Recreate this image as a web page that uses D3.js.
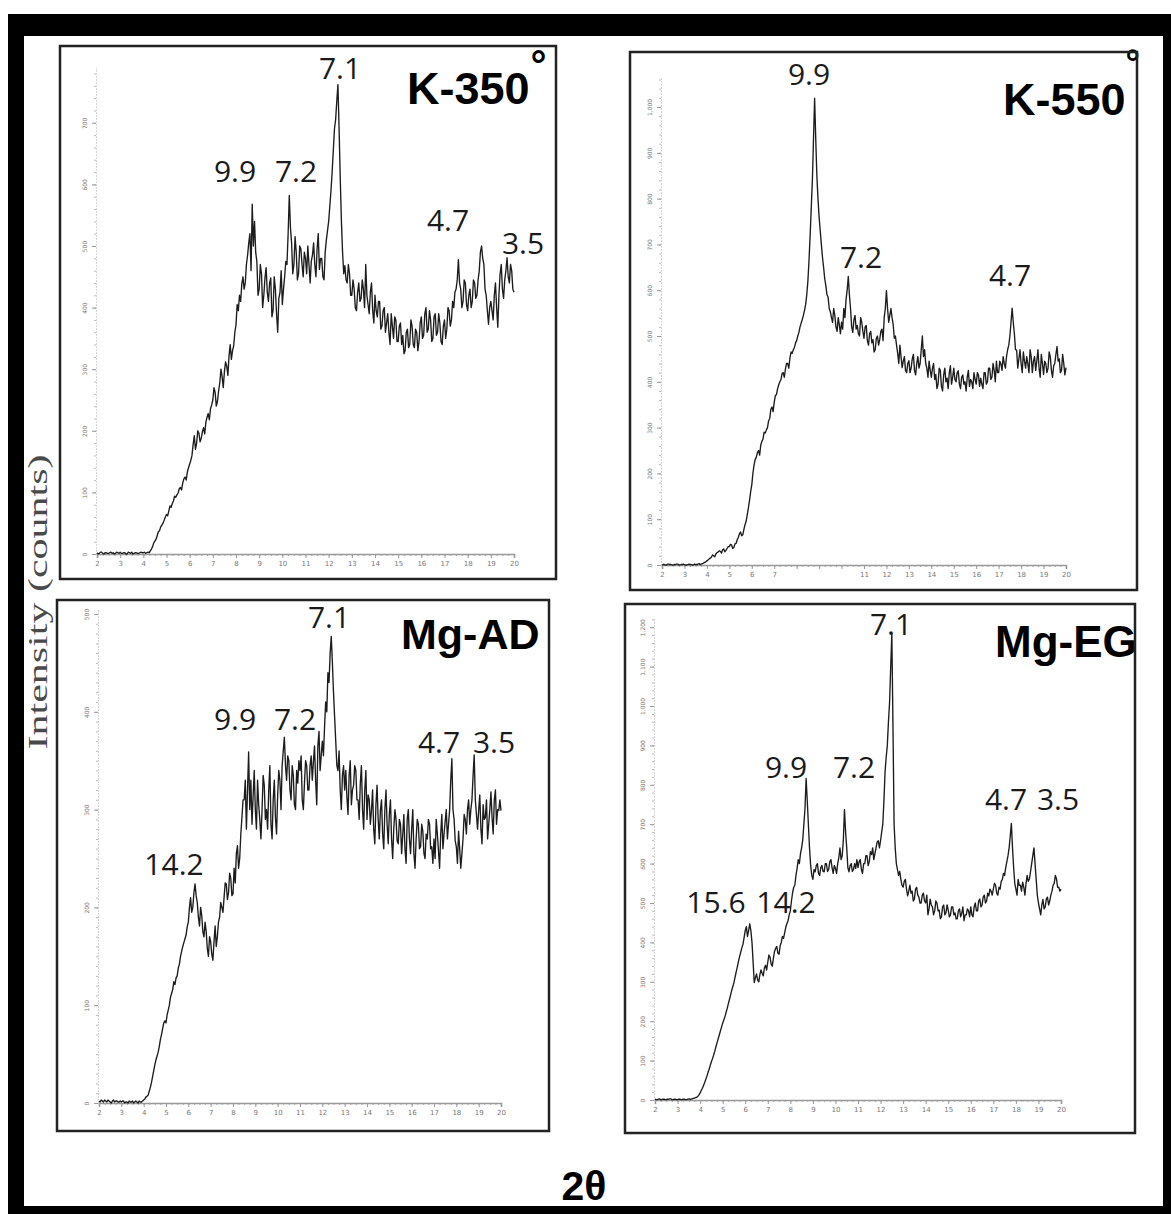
<!DOCTYPE html>
<html>
<head>
<meta charset="utf-8">
<script src="https://cdn.jsdelivr.net/npm/d3@7"></script>
<style>
  body { margin: 0; background: #fff; }
  svg { display: block; }
  .tick text { fill: #777; }
</style>
</head>
<body>
<svg width="1171" height="1214"></svg>
<script>
// 2-theta grid of every pattern: 2.00 .. 20.00 deg, step 0.05 (one row = one degree)
var thetaStart = 2, thetaStep = 0.05;
var xTickValues = [2,3,4,5,6,7,8,9,10,11,12,13,14,15,16,17,18,19,20];

// intensities (counts)
var k350 = [
  2,0,1,3,3,1,0,2,2,1,1,2,3,1,2,0,1,3,2,1,
  3,1,1,2,2,0,0,3,2,1,3,0,1,2,2,1,1,2,3,2,
  2,3,1,2,3,2,5,8,12,18,21,24,30,36,38,44,47,50,55,60,
  64,62,70,78,76,82,86,94,92,96,99,106,108,104,115,122,125,120,133,140,
  146,152,160,178,192,170,180,200,196,182,188,198,205,195,214,222,228,218,236,242,
  250,270,262,240,248,265,278,300,288,270,296,312,305,290,322,340,316,330,338,360,
  372,405,395,420,410,438,450,430,440,470,485,505,520,460,568,500,540,490,475,420,
  430,470,455,400,420,448,465,425,410,440,448,385,395,450,430,390,360,415,425,460,
  405,430,450,475,470,520,582,530,505,455,470,515,490,445,455,500,495,470,450,490,
  480,455,500,470,440,475,485,505,470,450,495,520,462,480,480,450,445,490,510,525,
  540,565,590,620,655,690,705,735,762,690,610,540,490,455,468,445,440,470,455,420,
  420,445,430,400,395,425,440,410,415,445,430,400,470,420,405,390,425,440,395,375,
  420,395,385,410,410,365,370,395,400,360,375,390,360,340,390,370,350,385,380,345,
  345,370,375,340,355,325,330,360,365,335,340,380,370,340,335,365,360,330,345,375,
  385,350,355,390,400,360,365,395,380,345,350,385,390,355,360,390,375,345,340,370,
  380,350,365,400,395,370,380,410,400,425,430,445,478,440,430,400,410,445,440,405,
  395,420,430,400,410,445,440,415,420,445,460,490,500,480,470,430,420,395,373,400,
  410,395,380,420,440,400,368,420,455,470,430,415,445,460,481,450,440,470,460,430,
  425
];
var k550 = [
  0,1,1,0,0,2,2,1,1,0,0,1,1,2,2,0,0,1,1,2,
  1,0,0,1,2,1,1,0,0,2,1,1,2,3,1,2,3,4,6,7,
  9,11,13,15,17,22,20,18,24,27,28,31,30,26,33,35,29,32,36,40,
  40,45,44,36,38,46,47,55,60,68,72,64,66,78,88,96,110,125,141,160,
  175,200,218,230,235,245,250,240,262,270,275,290,288,295,300,315,320,340,345,335,
  355,370,372,385,393,400,405,418,420,410,428,440,440,430,452,465,462,470,475,485,
  490,500,508,520,528,536,545,556,569,590,620,665,720,780,840,930,1019,930,850,800,
  760,730,700,672,650,625,610,590,585,560,553,540,530,560,545,520,510,540,525,505,
  530,515,560,540,580,600,630,590,560,520,508,535,545,515,523,505,500,540,530,510,
  495,520,523,490,480,505,510,485,492,465,470,495,500,480,492,510,515,490,540,560,
  599,560,530,545,560,540,525,495,500,480,462,440,480,455,431,445,455,425,420,440,
  446,420,430,450,460,425,415,440,455,430,440,470,500,455,470,440,430,410,445,425,
  410,430,440,405,416,385,395,430,425,390,380,415,430,400,408,385,420,435,395,410,
  430,405,400,420,424,395,385,410,415,395,400,380,410,425,390,405,400,385,420,405,
  395,420,415,390,408,395,385,420,420,395,400,430,430,405,410,440,425,400,445,420,
  420,445,439,425,455,440,430,455,470,480,500,530,561,530,505,470,469,430,450,470,
  440,420,465,445,430,455,439,420,470,455,420,445,455,425,446,470,430,410,460,440,
  416,445,440,420,430,465,455,425,410,435,440,460,477,445,450,420,425,460,440,415,
  431
];
var mgAD = [
  2,1,3,2,1,3,2,1,3,2,1,0,2,3,1,2,2,1,1,2,
  1,2,2,0,1,1,0,2,1,1,2,0,1,2,1,0,2,1,1,2,
  3,4,6,7,8,12,16,21,27,33,39,44,48,52,58,65,70,76,82,84,
  82,90,95,100,108,112,116,124,121,128,130,138,142,150,155,160,164,168,172,180,
  185,200,210,195,200,215,224,212,205,190,181,200,192,175,170,185,175,158,150,170,
  165,152,146,165,181,160,170,185,190,205,200,195,210,225,224,208,215,235,230,212,
  214,240,225,255,263,240,250,275,292,310,310,330,280,320,359,300,330,285,313,340,
  300,280,330,305,290,270,299,335,325,290,300,280,320,345,285,270,310,330,292,275,
  315,340,330,300,345,360,374,345,330,355,350,320,310,345,335,305,300,340,327,350,
  340,355,310,300,327,350,345,320,320,345,355,330,349,365,330,305,365,380,340,355,
  370,355,385,410,400,440,430,460,477,450,420,395,370,345,340,360,320,300,335,345,
  320,340,313,295,335,350,305,320,325,345,340,310,310,290,327,345,300,280,320,340,
  290,315,310,285,299,320,280,265,305,325,290,270,299,310,275,260,300,320,285,265,
  295,310,270,250,281,300,290,268,265,290,285,255,274,295,260,245,290,300,270,255,
  280,300,255,240,270,290,285,260,262,285,278,255,250,275,270,290,285,260,262,245,
  270,250,290,275,258,240,275,295,260,275,288,300,270,285,300,330,352,300,290,268,
  262,245,278,260,240,255,270,295,290,275,300,310,285,300,310,335,356,310,295,280,
  299,315,280,265,305,290,292,310,270,285,300,318,292,275,310,320,285,300,299,310,
  299
];
var mgEG = [
  2,1,1,2,3,1,1,2,2,1,1,2,2,3,3,1,1,2,2,1,
  1,2,2,1,1,2,2,1,1,2,3,2,2,3,4,5,6,7,9,13,
  18,24,30,37,44,52,60,70,78,88,97,105,114,124,135,145,155,165,175,185,
  195,203,211,222,232,244,255,266,278,288,298,312,325,338,352,364,375,386,395,412,
  430,440,415,430,447,430,400,350,298,310,320,305,300,318,330,322,315,335,342,330,
  350,368,362,345,340,360,377,385,390,372,370,392,400,415,410,425,439,448,455,470,
  480,505,526,540,545,570,588,610,600,625,640,660,700,740,816,760,700,640,596,570,
  560,585,579,595,600,575,570,590,595,580,579,600,600,580,585,605,610,590,575,595,
  588,575,600,615,640,610,620,660,737,680,640,590,579,595,600,580,585,600,588,610,
  590,605,610,585,575,600,600,620,620,595,605,630,623,640,610,625,640,655,658,640,
  658,680,700,760,833,870,900,960,1009,1100,1184,950,700,640,600,585,570,580,560,545,
  540,555,560,535,518,530,545,525,530,505,510,535,540,520,515,500,500,520,525,505,
  500,520,470,485,510,495,490,470,480,505,500,480,482,460,465,490,495,470,475,495,
  482,465,470,490,490,470,475,460,460,480,485,465,474,490,455,470,470,485,480,465,
  490,470,465,490,500,480,480,505,510,490,495,515,520,500,505,525,518,535,530,520,
  535,550,545,525,520,540,535,555,560,575,570,590,605,620,640,670,702,640,590,550,
  535,520,560,545,545,530,553,540,520,550,570,555,561,580,600,620,640,600,560,520,
  500,485,470,495,509,485,490,510,515,495,505,520,530,545,550,570,561,540,540,530,
  535
];

// peak labels (d-spacing, Angstrom) and panel titles
var k350Labels = ["7.1", "9.9", "7.2", "4.7", "3.5"];
var k550Labels = ["9.9", "7.2", "4.7"];
var mgADLabels = ["7.1", "9.9", "7.2", "4.7", "3.5", "14.2"];
var mgEGLabels = ["7.1", "9.9", "7.2", "4.7", "3.5", "15.6", "14.2"];
var titles = ["K-350", "K-550", "Mg-AD", "Mg-EG"];
var yLimits = [790, 1065, 505, 1225];
var yTickValues = [
  [0,100,200,300,400,500,600,700],
  [0,100,200,300,400,500,600,700,800,900,1000],
  [0,100,200,300,400,500],
  [0,100,200,300,400,500,600,700,800,900,1000,1100,1200]
];

var svg = d3.select("svg");

// outer black frame
svg.append("rect").attr("x", 0).attr("y", 0).attr("width", 1171).attr("height", 1214).attr("fill", "#fff");
svg.append("rect").attr("x", 8).attr("y", 14).attr("width", 1163).attr("height", 1200).attr("fill", "#000");
svg.append("rect").attr("x", 24).attr("y", 36).attr("width", 1139).attr("height", 1170).attr("fill", "#fff");

// layout of each panel (pixels)
var panels = [
  { data: k350, labels: k350Labels, title: titles[0], yMax: yLimits[0], yTicks: yTickValues[0], minor: 20,
    box: [60, 46, 556, 579], x0: 97, x1: 514, y0: 554, per100: 61.6,
    titleX: 407, titleBase: 104, titleSize: 45, deg: [1, -25.5, 40],
    pos: [[340, 79], [235, 182], [296, 182], [448, 231], [523, 254]], hideX: [] },
  { data: k550, labels: k550Labels, title: titles[1], yMax: yLimits[1], yTicks: yTickValues[1], minor: 20,
    box: [630, 52, 1137, 590], x0: 662, x1: 1066, y0: 565, per100: 45.8,
    titleX: 1003, titleBase: 115, titleSize: 45, deg: [0, -40, 36],
    pos: [[809, 85], [861, 268], [1010, 286]], hideX: [8, 9, 10] },
  { data: mgAD, labels: mgADLabels, title: titles[2], yMax: yLimits[2], yTicks: yTickValues[2], minor: 10,
    box: [57, 600, 549, 1131], x0: 99, x1: 501, y0: 1103, per100: 97.8,
    titleX: 401, titleBase: 649, titleSize: 43, deg: null,
    pos: [[329, 628], [235, 730], [295, 730], [439, 753], [494, 753], [174, 875]], hideX: [] },
  { data: mgEG, labels: mgEGLabels, title: titles[3], yMax: yLimits[3], yTicks: yTickValues[3], minor: 20,
    box: [625, 604, 1135, 1133], x0: 655, x1: 1061, y0: 1100, per100: 39.4,
    titleX: 995, titleBase: 657, titleSize: 44, deg: null,
    pos: [[891, 635], [786, 778], [854, 778], [1006, 810], [1058, 810], [716, 913], [786, 913]], hideX: [] }
];

panels.forEach(function(p) {
  var g = svg.append("g");
  var x = d3.scaleLinear().domain([2, 20]).range([p.x0, p.x1]);
  var y = d3.scaleLinear().domain([0, p.yMax]).range([p.y0, p.y0 - p.yMax * p.per100 / 100]);

  // peak labels
  g.selectAll(".peak")
    .data(p.labels)
    .enter().append("text")
    .attr("class", "peak")
    .attr("x", function(d, i) { return p.pos[i][0]; })
    .attr("y", function(d, i) { return p.pos[i][1]; })
    .attr("text-anchor", "middle")
    .style("font-family", "'Open Sans', sans-serif")
    .style("font-size", "30px")
    .attr("fill", "#1a1a1a")
    .text(function(d) { return d; });

  // title, with the degree sign as a raised tspan
  var t = g.append("text")
    .attr("x", p.titleX).attr("y", p.titleBase)
    .style("font-family", "'Liberation Sans', Arial, sans-serif")
    .style("font-weight", "bold")
    .style("font-size", p.titleSize + "px")
    .attr("fill", "#000");
  t.append("tspan").text(p.title);
  if (p.deg) {
    t.append("tspan")
      .attr("dx", p.deg[0]).attr("dy", p.deg[1])
      .style("font-size", p.deg[2] + "px")
      .text("\u00b0");
  }

  // x axis: minor then major ticks
  g.append("g")
    .attr("transform", "translate(0," + p.y0 + ")")
    .call(d3.axisBottom(x).tickValues(d3.range(2, 20.001, 0.25)).tickSize(2).tickFormat(""))
    .call(function(a) { a.select(".domain").remove(); a.selectAll("line").attr("stroke", "#aaa"); });
  var xa = g.append("g")
    .attr("transform", "translate(0," + p.y0 + ")")
    .call(d3.axisBottom(x).tickValues(xTickValues).tickSize(4).tickPadding(3)
      .tickFormat(function(d) { return p.hideX.indexOf(d) >= 0 ? "" : d; }));
  xa.select(".domain").attr("stroke", "#999").attr("stroke-width", 1.6);
  xa.selectAll("line").attr("stroke", "#999");
  xa.selectAll("text").style("font-size", "7px").style("font-family", "'DejaVu Sans', sans-serif");

  // y axis: dotted line, minor dots, rotated tiny labels
  g.append("g")
    .attr("transform", "translate(" + (p.x0 - 1) + ",0)")
    .call(d3.axisLeft(y).tickValues(d3.range(0, p.yMax, p.minor)).tickSize(2).tickFormat(""))
    .call(function(a) { a.select(".domain").remove(); a.selectAll("line").attr("stroke", "#bbb"); });
  var ya = g.append("g")
    .attr("transform", "translate(" + (p.x0 - 1) + ",0)")
    .call(d3.axisLeft(y).tickValues(p.yTicks).tickSize(4).tickSizeOuter(0));
  ya.select(".domain").attr("stroke", "#aaa").attr("stroke-dasharray", "1,2");
  ya.selectAll("line").attr("stroke", "#999");
  ya.selectAll("text")
    .attr("transform", "rotate(-90)")
    .attr("x", 0).attr("y", -9).attr("dy", 0)
    .attr("text-anchor", "middle")
    .style("font-size", "6px")
    .style("font-family", "'DejaVu Sans', sans-serif");

  // pattern
  var line = d3.line()
    .x(function(d, i) { return x(thetaStart + thetaStep * i); })
    .y(function(d) { return y(d); });
  g.append("path")
    .datum(p.data)
    .attr("d", line)
    .attr("fill", "none")
    .attr("stroke", "#1c1c1c")
    .attr("stroke-width", 1.35)
    .attr("stroke-linejoin", "round");

  // frame of the panel
  g.append("rect")
    .attr("x", p.box[0]).attr("y", p.box[1])
    .attr("width", p.box[2] - p.box[0]).attr("height", p.box[3] - p.box[1])
    .attr("fill", "none")
    .attr("stroke", "#222")
    .attr("stroke-width", 2.5);
});

// shared axis titles
svg.append("text")
  .attr("transform", "translate(47,602) rotate(-90)")
  .attr("text-anchor", "middle")
  .attr("textLength", 295)
  .attr("lengthAdjust", "spacingAndGlyphs")
  .style("font-family", "'Liberation Serif', 'Times New Roman', serif")
  .style("font-size", "28px")
  .attr("fill", "#4a4a4a")
  .text("Intensity (counts)");

svg.append("text")
  .attr("x", 584).attr("y", 1200)
  .attr("text-anchor", "middle")
  .style("font-family", "'Liberation Sans', Arial, sans-serif")
  .style("font-weight", "bold")
  .style("font-size", "41px")
  .attr("fill", "#000")
  .text("2\u03b8");
</script>
</body>
</html>
